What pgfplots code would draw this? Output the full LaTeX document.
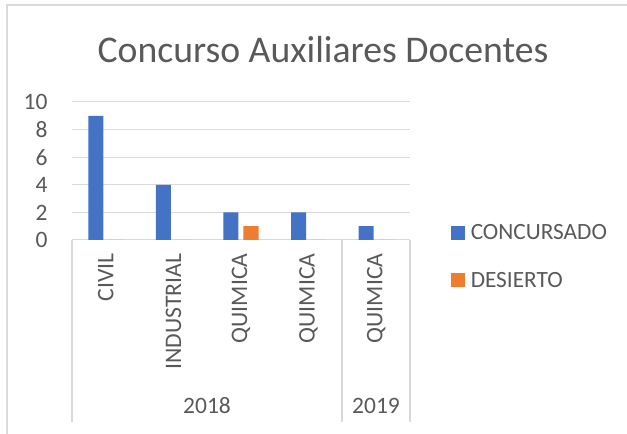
\documentclass[border=0pt]{standalone}
\usepackage{fontspec}
\setmainfont{Carlito}
\usepackage{pgfplots}
\pgfplotsset{compat=1.18}
\definecolor{cblue}{HTML}{4472C4}
\definecolor{corange}{HTML}{ED7D31}
\definecolor{txt}{HTML}{595959}
\definecolor{gridc}{HTML}{D9D9D9}
\begin{document}
\begin{tikzpicture}[x=1pt,y=1pt]
\path[use as bounding box] (0,0) rectangle (627,434);
\draw[gridc, line width=1.2pt] (7,0) -- (7,429) -- (627,429);
\node[text=txt, font=\fontsize{37.7}{42}\selectfont] at (323,384) {Concurso Auxiliares Docentes};
\begin{axis}[
  at={(72pt,194pt)}, anchor=south west,
  width=338pt, height=138pt, scale only axis,
  xmin=-0.5, xmax=4.5, ymin=0, ymax=10,
  ytick={0,2,...,10},
  ymajorgrids, grid style={gridc, line width=1pt},
  axis line style={draw=none},
  tick style={draw=none},
  xtick={0,1,2,3,4},
  xticklabels={CIVIL,INDUSTRIAL,QUIMICA,QUIMICA,QUIMICA},
  xticklabel style={rotate=90, anchor=east, text=txt, font=\fontsize{23.7}{26}\selectfont},
  xticklabel shift=10pt,
  yticklabel style={text=txt, font=\fontsize{23.5}{26}\selectfont},
  yticklabel shift=21pt,
  /pgf/number format/assume math mode=true,
  legend style={at={(1.12,0.13)}, anchor=north west, draw=none, fill=none,
    font=\fontsize{23.3}{26}\selectfont, text=txt, row sep=27pt, inner sep=0pt,
    /tikz/every odd column/.append style={column sep=4pt}},
  legend cell align=left,
]
\addplot[ybar, bar width=15pt, bar shift=-10pt, fill=cblue, draw=none,
  legend image code/.code={\fill[cblue] (0pt,-7pt) rectangle (14pt,7pt);}]
  coordinates {(0,9) (1,4) (2,2) (3,2) (4,1)};
\addlegendentry{CONCURSADO}
\addplot[ybar, bar width=15pt, bar shift=10pt, fill=corange, draw=none,
  legend image code/.code={\fill[corange] (0pt,-7pt) rectangle (14pt,7pt);}]
  coordinates {(0,0) (1,0) (2,1) (3,0) (4,0)};
\addlegendentry{DESIERTO}
\end{axis}
\draw[gridc, line width=1.2pt] (72,194) -- (72,12);
\draw[gridc, line width=1.2pt] (342,194) -- (342,12);
\draw[gridc, line width=1.2pt] (410,194) -- (410,12);
\node[text=txt, font=\fontsize{23.5}{26}\selectfont] at (207,28) {2018};
\node[text=txt, font=\fontsize{23.5}{26}\selectfont] at (376,28) {2019};
\end{tikzpicture}
\end{document}
